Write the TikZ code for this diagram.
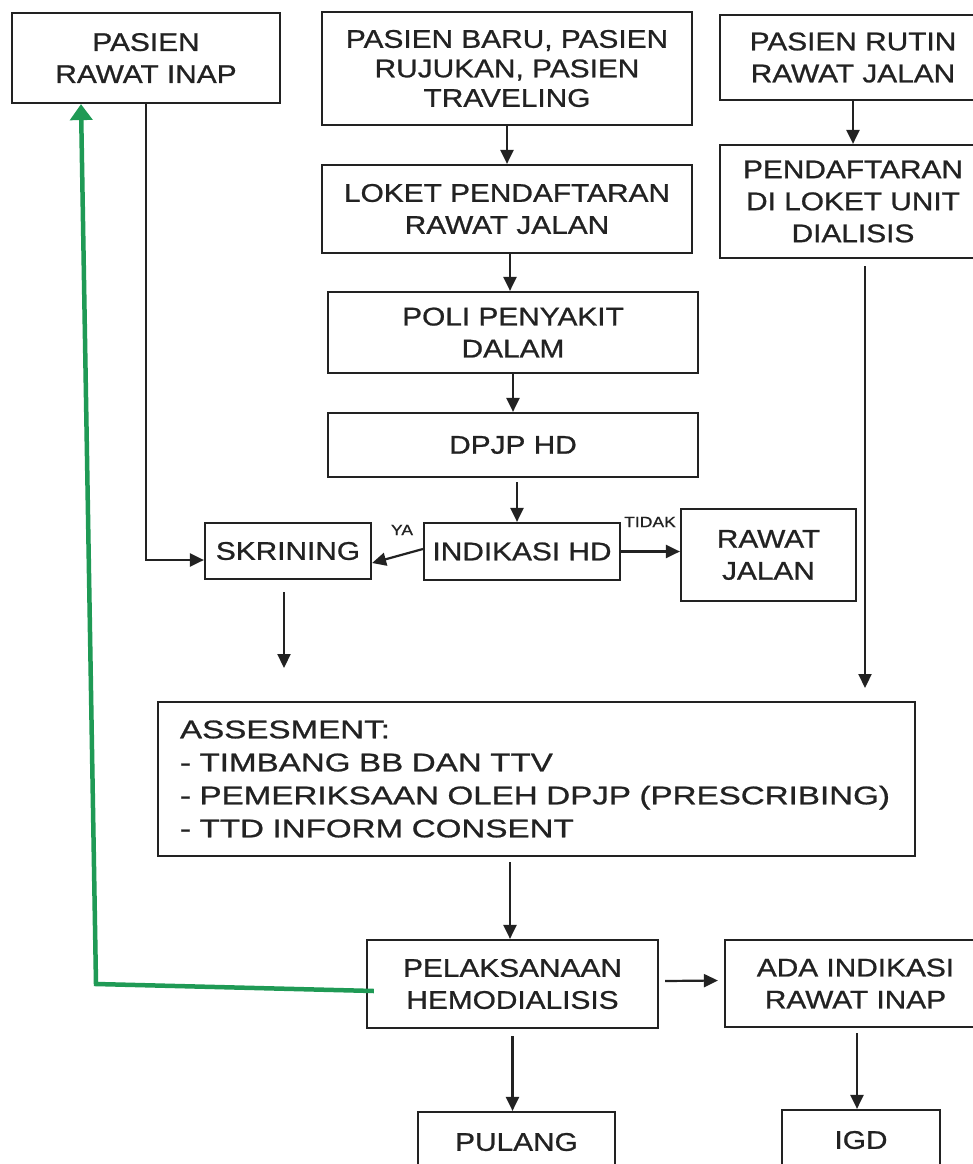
\documentclass[tikz,border=0pt]{standalone}
\usepackage{fontspec}
\setmainfont{Liberation Sans}[FakeStretch=1.17,FakeBold=0.9]
\newfontfamily\assfont{Liberation Sans}[FakeStretch=1.3,FakeBold=0.9]
\usetikzlibrary{arrows.meta}
\definecolor{ink}{HTML}{222222}
\definecolor{hdgreen}{HTML}{1F9A55}
\begin{document}
\begin{tikzpicture}[x=1pt,y=-1pt,
  box/.style={draw=ink, line width=2.2pt, align=center, inner sep=0pt, text=ink,
    font=\fontsize{25.5pt}{32pt}\selectfont},
  arr/.style={draw=ink, line width=2.2pt, -{Triangle[length=14pt,width=13pt]}},
  lbl/.style={text=ink, font=\fontsize{15pt}{18pt}\selectfont, inner sep=0pt},
  gline/.style={draw=hdgreen, line width=4.5pt, -{Triangle[length=16pt,width=22pt]}}]
\useasboundingbox (0,0) rectangle (973,1164);
\fill[white] (0,0) rectangle (973,1164);
\clip (0,0) rectangle (973,1164);

% nodes
\node[box, minimum width=268pt, minimum height=90pt] (pri) at (146,58) {PASIEN\\RAWAT INAP};
\node[box, minimum width=370pt, minimum height=113pt, font=\fontsize{25.5pt}{29.5pt}\selectfont] (baru) at (507,68.5) {PASIEN BARU, PASIEN\\RUJUKAN, PASIEN\\TRAVELING};
\node[box, minimum width=266pt, minimum height=85pt] (rutin) at (853,57.5) {PASIEN RUTIN\\RAWAT JALAN};
\node[box, minimum width=266pt, minimum height=113pt] (daftar) at (853,201.5) {PENDAFTARAN\\DI LOKET UNIT\\DIALISIS};
\node[box, minimum width=370pt, minimum height=88pt] (loket) at (507,209) {LOKET PENDAFTARAN\\RAWAT JALAN};
\node[box, minimum width=370pt, minimum height=81pt] (poli) at (513,332.5) {POLI PENYAKIT\\DALAM};
\node[box, minimum width=370pt, minimum height=64pt] (dpjp) at (513,445) {DPJP HD};
\node[box, minimum width=166pt, minimum height=56pt] (skr) at (288,551) {SKRINING};
\node[box, minimum width=196pt, minimum height=57pt] (ind) at (522,551.5) {INDIKASI HD};
\node[box, minimum width=175pt, minimum height=92pt] (rj) at (768.5,555) {RAWAT\\JALAN};
\node[box, align=left, text width=713pt, inner xsep=22pt, minimum height=154pt,
  font=\assfont\fontsize{25.5pt}{33pt}\selectfont] (ass) at (536.5,779)
  {ASSESMENT:\\- TIMBANG BB DAN TTV\\- PEMERIKSAAN OLEH DPJP (PRESCRIBING)\\- TTD INFORM CONSENT};
\node[box, minimum width=291pt, minimum height=88pt] (pel) at (512.5,984) {PELAKSANAAN\\HEMODIALISIS};
\node[box, minimum width=261pt, minimum height=87pt] (ada) at (855.5,983.5) {ADA INDIKASI\\RAWAT INAP};
\node[box, minimum width=197pt, minimum height=60pt] (pul) at (516.5,1142) {PULANG};
\node[box, minimum width=158pt, minimum height=60pt] (igd) at (861,1140) {IGD};

% labels
\node[lbl] (ya) at (402,530) {YA};
\node[lbl] (tidak) at (650,522) {TIDAK};

% free ends
\coordinate (skrend) at (284,668);
\coordinate (daftend) at (865,688);
\coordinate (gc) at (96,984);

% connectors
\draw[arr] (pri.south) |- ([yshift=-9pt]skr.west);
\draw[arr] (baru.south) -- (loket.north);
\draw[arr] ([xshift=3pt]loket.south) -- ([xshift=-3pt]poli.north);
\draw[arr] (poli.south) -- (dpjp.north);
\draw[arr] ([xshift=4pt,yshift=-4pt]dpjp.south) -- ([xshift=-5pt]ind.north);
\draw[arr] ([yshift=2.5pt]ind.west) -- ([yshift=-12pt]skr.east);
\draw[arr] (ind.east) -- (rj.west |- ind.east);
\draw[arr] ([xshift=-4pt,yshift=-12pt]skr.south) -- (skrend);
\draw[arr] (rutin.south) -- (daftar.north);
\draw[arr] ([xshift=12pt,yshift=-7pt]daftar.south) -- (daftend);
\draw[arr] ([xshift=-26.5pt,yshift=-5pt]ass.south) -- ([xshift=-2.5pt]pel.north);
\draw[arr] ([xshift=6pt,yshift=3pt]pel.east) -- ([xshift=-6pt,yshift=3pt]ada.west);
\draw[arr] ([yshift=-7pt]pel.south) -- (pel.south |- pul.north);
\draw[arr] ([xshift=1.5pt,yshift=-5pt]ada.south) -- ([xshift=-4pt]igd.north);
\draw[gline] ([xshift=8pt,yshift=-7pt]pel.west) -- (gc) -- ([xshift=-65pt]pri.south);
\end{tikzpicture}
\end{document}
